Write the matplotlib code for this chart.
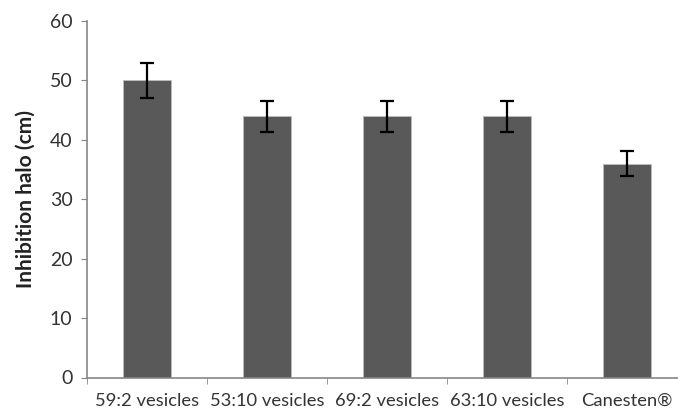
import numpy as np
import matplotlib.pyplot as plt

categories = ["59:2 vesicles", "53:10 vesicles", "69:2 vesicles", "63:10 vesicles", "Canesten®"]
halo = [50, 44, 44, 44, 36]
halo_err = [3.0, 2.6, 2.6, 2.6, 2.1]

plt.rcParams['font.family'] = ['Lato', 'DejaVu Sans']

fig = plt.figure(figsize=(6.78, 4.09), dpi=100)
ax = fig.add_axes([87 / 678, 31.5 / 409, 600 / 678, 356.5 / 409])

x = np.arange(len(categories))
ax.bar(x, halo, width=0.4, color="#595959", edgecolor="#bdbdbd", linewidth=0.6,
       yerr=halo_err, capsize=5, error_kw=dict(ecolor="black", elinewidth=1.6, capthick=1.6))

ax.set_xlim(-0.5, len(categories) - 0.5)
ax.set_ylim(0, 60)
ax.set_yticks(range(0, 61, 10))
ax.set_xticks(x)
ax.set_xticklabels(categories)
ax.set_xticks(np.arange(-0.5, len(categories), 1), minor=True)
ax.tick_params(axis="x", which="major", length=0, pad=11, labelsize=13.2, labelcolor="#333333")
ax.tick_params(axis="x", which="minor", length=4.5, color="#868686")
ax.tick_params(axis="y", length=4.5, color="#868686", labelsize=14, labelcolor="#333333", pad=6)

for side in ["top", "right"]:
    ax.spines[side].set_visible(False)
for side in ["left", "bottom"]:
    ax.spines[side].set_color("#868686")
    ax.spines[side].set_linewidth(1.2)

ax.set_ylabel("Inhibition halo (cm)", fontsize=15, fontweight="bold", color="#222222", labelpad=10)

fig.savefig("out.png", dpi=100)
